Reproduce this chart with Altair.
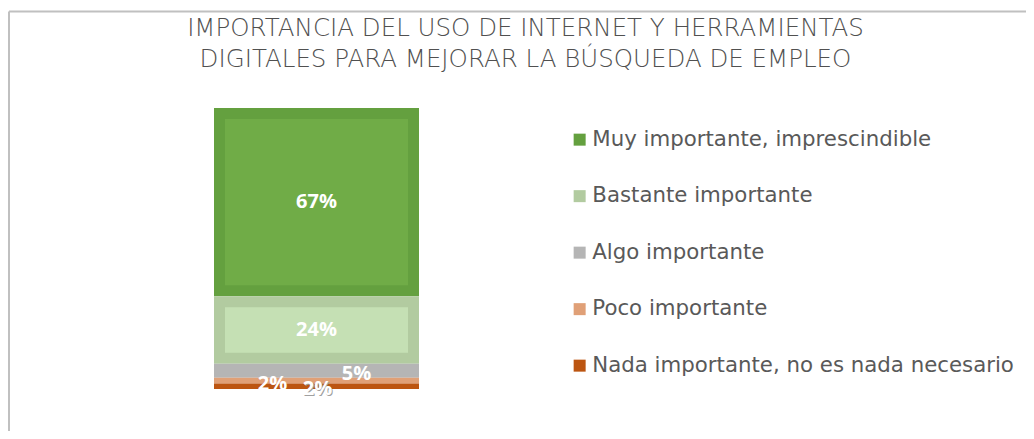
import altair as alt
import pandas as pd

categories = [
    "Muy importante, imprescindible",
    "Bastante importante",
    "Algo importante",
    "Poco importante",
    "Nada importante, no es nada necesario",
]
values = [67, 24, 5, 2, 2]
order_rank = [0, 1, 2, 3, 4]
group_name = "Empleo"

title_lines = [
    "IMPORTANCIA DEL USO DE INTERNET Y HERRAMIENTAS",
    "DIGITALES PARA MEJORAR LA BÚSQUEDA DE EMPLEO",
]

seg_colors = ["#64A03F", "#B2CBA0", "#B5B5B5", "#E0A077", "#BC5511"]
box_colors = ["#70AC47", "#C5E0B4", "#B5B5B5", "#E0A077", "#BC5511"]

df = pd.DataFrame({"cat": categories, "value": values, "ord": order_rank, "grp": group_name})

base = alt.Chart(df).transform_stack(
    stack="value", as_=["y0", "y1"], groupby=["grp"],
    sort=[alt.SortField("ord", order="descending")],
).transform_calculate(
    mid="(datum.y0 + datum.y1) / 2",
    label="datum.value + '%'",
)

x_enc = alt.X("grp:N", axis=None, scale=alt.Scale(paddingInner=0, paddingOuter=0))
y_scale = alt.Scale(domain=[0, 100], nice=False, zero=True)

segments = base.mark_bar(strokeWidth=0).encode(
    x=x_enc,
    y=alt.Y("y1:Q", axis=None, scale=y_scale),
    y2="y0:Q",
    color=alt.Color(
        "cat:N",
        scale=alt.Scale(domain=categories, range=seg_colors),
        sort=categories,
        legend=alt.Legend(
            title=None, orient="none", legendX=355, legendY=21,
            symbolType="square", symbolSize=144, symbolStrokeWidth=0,
            labelFont="DejaVu Sans", labelFontSize=21.3, labelColor="#595959",
            labelOffset=2, rowPadding=34.5, labelLimit=700,
        ),
    ),
)

boxes = base.transform_filter("datum.value >= 20").mark_bar(
    width=183, yOffset=11, y2Offset=-11, strokeWidth=0
).encode(
    x=x_enc,
    y=alt.Y("y1:Q", axis=None, scale=y_scale),
    y2="y0:Q",
    color=alt.Color("cat:N", scale=alt.Scale(domain=categories, range=box_colors), legend=None),
)

LBL_FONT = "Open Sans"
LBL_SIZE = 20

big_labels = base.transform_filter("datum.value >= 20").mark_text(
    font=LBL_FONT, fontWeight="bold", fontSize=LBL_SIZE, color="white", baseline="middle"
).encode(
    x=x_enc,
    y=alt.Y("mid:Q", axis=None, scale=y_scale),
    text="label:N",
)

def small_label(cat, dx, dy, shadow=False):
    layers = []
    if shadow:
        layers.append(
            base.transform_filter(alt.datum.cat == cat).mark_text(
                font=LBL_FONT, fontWeight="bold", fontSize=LBL_SIZE, color="#A0A0A0",
                baseline="middle", dx=dx + 1, dy=dy + 1,
            ).encode(x=x_enc, y=alt.Y("mid:Q", axis=None, scale=y_scale), text="label:N")
        )
    layers.append(
        base.transform_filter(alt.datum.cat == cat).mark_text(
            font=LBL_FONT, fontWeight="bold", fontSize=LBL_SIZE, color="white",
            baseline="middle", dx=dx, dy=dy,
        ).encode(x=x_enc, y=alt.Y("mid:Q", axis=None, scale=y_scale), text="label:N")
    )
    return layers

small = (
    small_label(categories[2], 40, 3)
    + small_label(categories[3], -44, 3)
    + small_label(categories[4], 1, 3, shadow=True)
)

border_data = alt.Data(values=[{"k": 1}])
border_top = alt.Chart(border_data).mark_rule(color="#C0C0C0", strokeWidth=2).encode(
    x=alt.value(-205), x2=alt.value(830), y=alt.value(-96.5)
)
border_left = alt.Chart(border_data).mark_rule(color="#C0C0C0", strokeWidth=2).encode(
    x=alt.value(-205), y=alt.value(-96.5), y2=alt.value(340)
)

chart = alt.layer(
    border_top, border_left, segments, boxes, big_labels, *small
).resolve_scale(color="independent").properties(
    width=205,
    height=281,
    padding={"left": 206, "top": 100, "right": 607, "bottom": 42},
    autosize=alt.AutoSizeParams(type="none"),
    title=alt.TitleParams(
        text=title_lines, anchor="middle", dx=209, offset=37, dy=99,
        font="DejaVu Sans", fontSize=24.5, fontWeight=200, color="#505050", lineHeight=31,
    ),
).configure_view(stroke=None)

chart.save("out.html", embed_options={"renderer": "svg", "actions": False})
